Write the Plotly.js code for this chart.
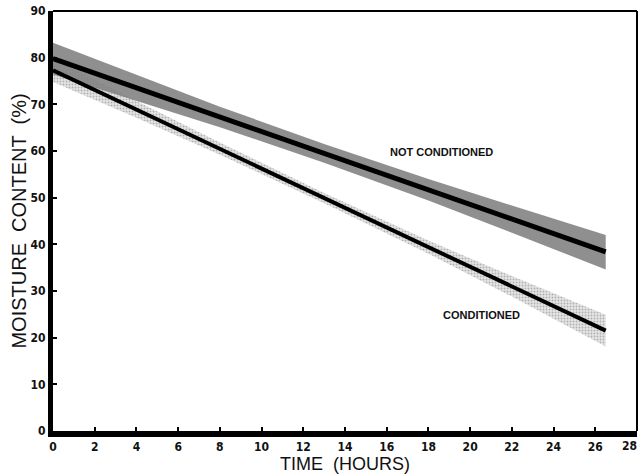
<!DOCTYPE html>
<html>
<head>
<meta charset="utf-8">
<script src="https://cdn.plot.ly/plotly-3.0.1.min.js"></script>
<style>html,body{margin:0;padding:0;background:#fff;}#chart{width:640px;height:474px;}</style>
</head>
<body>
<div id="chart"></div>
<script>
// Band sample times (hours)
const bandHours = [0, 4, 8, 13, 18, 22, 26.5];
// NOT CONDITIONED band (upper / lower, %)
const ncUpper = [83.2, 76.3, 69.5, 61.5, 54.0, 48.3, 42.0];
const ncLower = [76.4, 70.8, 65.1, 57.5, 49.4, 42.5, 34.6];
// CONDITIONED band (upper / lower, %)
const cUpper = [79.8, 70.7, 61.8, 51.0, 40.8, 33.2, 24.9];
const cLower = [74.8, 67.1, 59.2, 48.8, 38.0, 28.8, 18.1];
// Regression lines
const lineHours = [0, 26.5];
const ncLine = [79.8, 38.4];
const cLine = [77.3, 21.5];
// Axis ticks
const xTicks = [0, 2, 4, 6, 8, 10, 12, 14, 16, 18, 20, 22, 24, 26, 28];
const yTicks = [0, 10, 20, 30, 40, 50, 60, 70, 80, 90];

const tickFont = {family: 'DejaVu Sans Condensed, DejaVu Sans, sans-serif', size: 12, color: '#111', weight: 'bold', stretch: 'condensed'};
const titleFont = {family: 'Liberation Sans, Arial, sans-serif', size: 20, color: '#111'};

const lastX = xTicks[xTicks.length - 1];

const traces = [
  {x: bandHours, y: cLower, mode: 'lines', line: {width: 0}, hoverinfo: 'skip', showlegend: false},
  {x: bandHours, y: cUpper, mode: 'lines', line: {width: 0}, fill: 'tonexty',
   fillcolor: '#dcdcdc', fillpattern: {shape: '.', fgcolor: '#b0b0b0', bgcolor: '#e6e6e6', size: 3, solidity: 0.3},
   hoverinfo: 'skip', showlegend: false},
  {x: bandHours, y: ncLower, mode: 'lines', line: {width: 0}, hoverinfo: 'skip', showlegend: false},
  {x: bandHours, y: ncUpper, mode: 'lines', line: {width: 0}, fill: 'tonexty',
   fillcolor: 'rgba(128,128,128,0.88)', hoverinfo: 'skip', showlegend: false},
  {x: lineHours, y: ncLine, mode: 'lines', line: {color: '#000', width: 5}, name: 'NOT CONDITIONED', showlegend: false},
  {x: lineHours, y: cLine, mode: 'lines', line: {color: '#000', width: 4}, name: 'CONDITIONED', showlegend: false}
];

const layout = {
  width: 640, height: 474,
  margin: {l: 53, r: 3, t: 11, b: 43},
  paper_bgcolor: '#fff', plot_bgcolor: '#fff',
  showlegend: false,
  xaxis: {
    range: [0, 28], tickvals: xTicks, ticktext: xTicks.map(v => v === lastX ? '' : String(v)),
    showgrid: false, zeroline: false, showline: true, linecolor: '#000', linewidth: 6,
    ticks: 'inside', ticklen: 4, tickwidth: 2, tickcolor: '#000',
    tickfont: tickFont,
    title: {text: 'TIME  (HOURS)', font: {family: 'Liberation Sans, Arial, sans-serif', size: 18, color: '#111'}, standoff: 10}
  },
  yaxis: {
    range: [0, 90], tickvals: yTicks, ticktext: yTicks.map(String),
    showgrid: false, zeroline: false, showline: true, linecolor: '#000', linewidth: 5,
    ticks: 'inside', ticklen: 4, tickwidth: 2, tickcolor: '#000',
    tickfont: tickFont,
    title: {text: 'MOISTURE  CONTENT  (%)', font: titleFont, standoff: 0}
  },
  shapes: [
    {type: 'line', xref: 'paper', yref: 'paper', x0: 0, x1: 1, y0: 1, y1: 1, line: {color: '#000', width: 2}},
    {type: 'line', xref: 'paper', yref: 'paper', x0: 1, x1: 1, y0: 0, y1: 1, line: {color: '#000', width: 2}}
  ],
  annotations: [
    {x: 18.65, y: 59.8, xref: 'x', yref: 'y', text: 'NOT CONDITIONED', showarrow: false,
     font: {family: 'Liberation Sans, Arial, sans-serif', size: 11, color: '#111', weight: 'bold'}},
    {x: 20.55, y: 24.8, xref: 'x', yref: 'y', text: 'CONDITIONED', showarrow: false,
     font: {family: 'Liberation Sans, Arial, sans-serif', size: 11, color: '#111', weight: 'bold'}},
    {x: lastX, y: 0, xref: 'x', yref: 'paper', text: String(lastX), showarrow: false,
     xanchor: 'right', yanchor: 'top', xshift: 2, yshift: -6, font: tickFont}
  ]
};

Plotly.newPlot('chart', traces, layout, {displayModeBar: false, staticPlot: true});
</script>
</body>
</html>
